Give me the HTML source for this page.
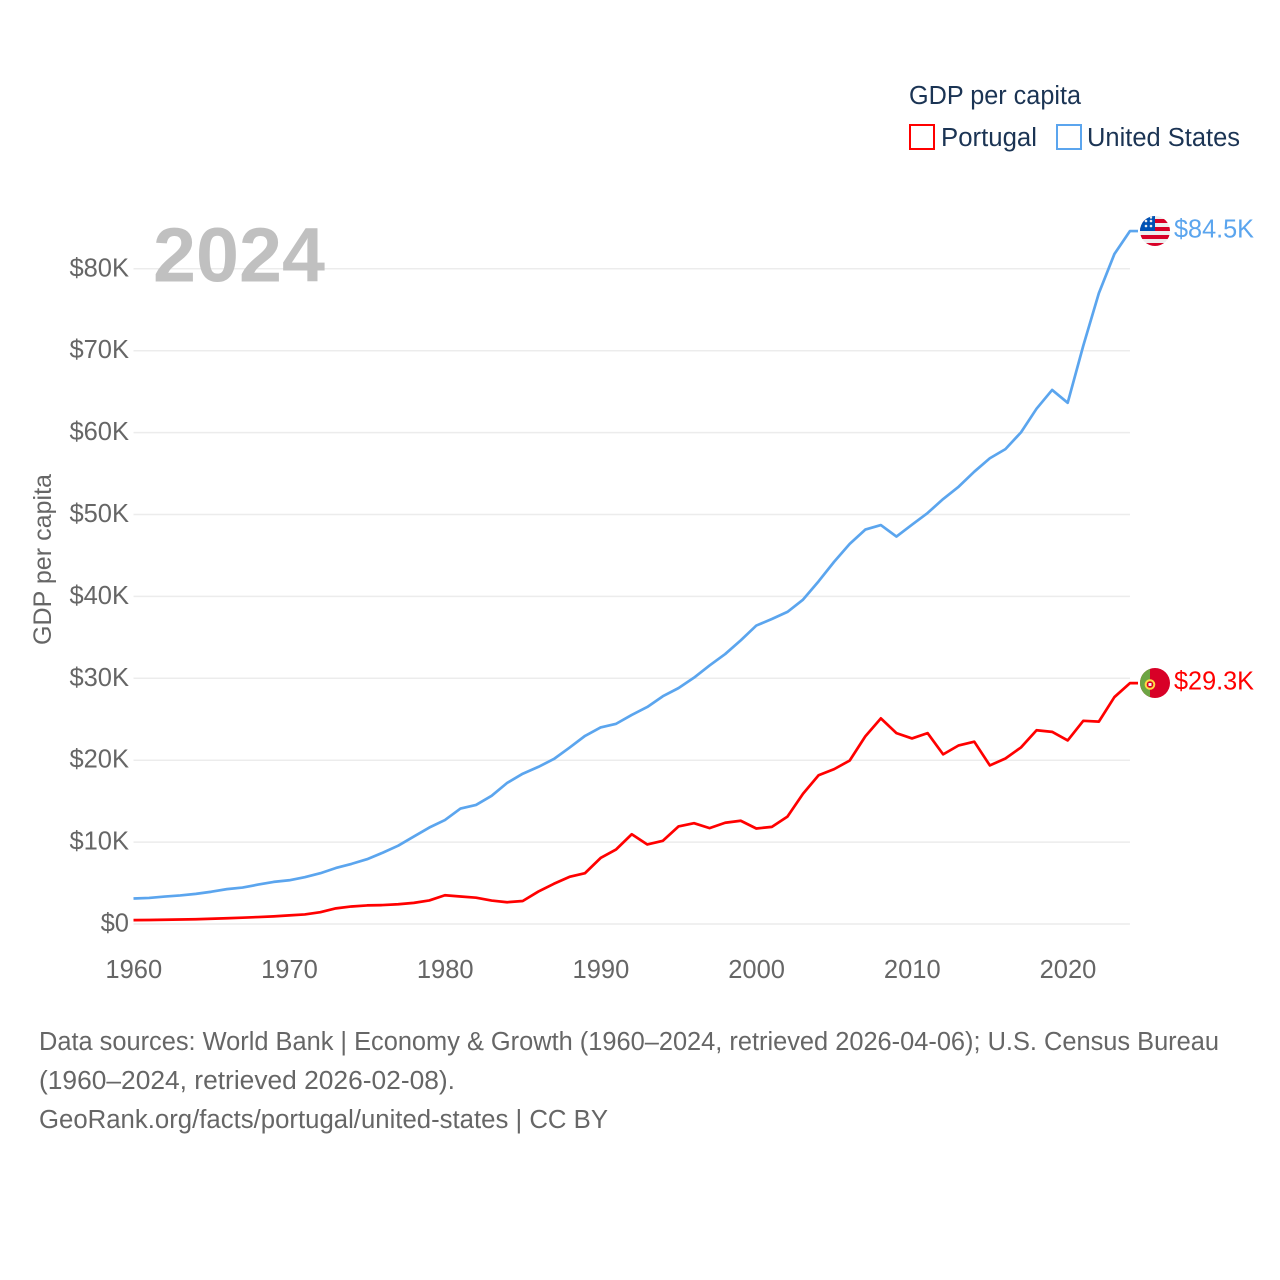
<!DOCTYPE html>
<html lang="en">
<head>
<meta charset="utf-8">
<title>GDP per capita: Portugal vs United States</title>
<style>
html,body{margin:0;padding:0;background:#fff;}
svg{display:block;font-family:"Liberation Sans",sans-serif;}
</style>
</head>
<body>
<svg id="chart" xmlns="http://www.w3.org/2000/svg" width="1280" height="1280" viewBox="0 0 1280 1280">
  <defs>
    <clipPath id="flag-clip-us"><circle cx="1155" cy="231" r="15"/></clipPath>
    <clipPath id="flag-clip-pt"><circle cx="1155" cy="683" r="15"/></clipPath>
  </defs>
  <rect x="0" y="0" width="1280" height="1280" fill="#fff"/>

  <g id="grid"></g>
  <text x="153" y="281.5" font-size="77" font-weight="700" fill="#c0c0c0" textLength="172" lengthAdjust="spacingAndGlyphs">2024</text>
  <g id="yticks"></g>
  <g id="xticks"></g>
  <text transform="translate(51,645) rotate(-90)" font-size="25" fill="#666" textLength="171" lengthAdjust="spacingAndGlyphs">GDP per capita</text>
  <g id="series"></g>

  <g>
    <text x="909" y="104" font-size="25.5" fill="#1b3454" textLength="172" lengthAdjust="spacingAndGlyphs">GDP per capita</text>
    <g>
      <rect x="910" y="125" width="24" height="24" fill="#fff" stroke="#ff0000" stroke-width="2"/>
      <text x="941" y="146" font-size="25.5" fill="#1b3454" textLength="96" lengthAdjust="spacingAndGlyphs">Portugal</text>
    </g>
    <g>
      <rect x="1057" y="125" width="24" height="24" fill="#fff" stroke="#5ba5ee" stroke-width="2"/>
      <text x="1087" y="146" font-size="25.5" fill="#1b3454" textLength="153" lengthAdjust="spacingAndGlyphs">United States</text>
    </g>
  </g>

  <g clip-path="url(#flag-clip-us)">
    <rect x="1140" y="216" width="30" height="30" fill="#eeeeee"/>
    <rect x="1140" y="219" width="30" height="4" fill="#d80027"/>
    <rect x="1140" y="227" width="30" height="4" fill="#d80027"/>
    <rect x="1140" y="235" width="30" height="4" fill="#d80027"/>
    <rect x="1140" y="243" width="30" height="4" fill="#d80027"/>
    <rect x="1140" y="216" width="15" height="15" fill="#0052b4"/>
    <circle cx="1146" cy="226" r="1.3" fill="#eee"/>
    <circle cx="1151" cy="226" r="1.3" fill="#eee"/>
    <circle cx="1146" cy="221" r="1.3" fill="#eee"/>
    <circle cx="1151" cy="221" r="1.3" fill="#eee"/>
    <circle cx="1151" cy="217.5" r="1.2" fill="#eee"/>
  </g>
  <g clip-path="url(#flag-clip-pt)">
    <rect x="1140" y="668" width="30" height="30" fill="#d80027"/>
    <rect x="1140" y="668" width="10" height="30" fill="#6da544"/>
    <circle cx="1150" cy="684.5" r="5.3" fill="#ffda44"/>
    <circle cx="1150" cy="684.5" r="3.3" fill="#d80027"/>
    <rect x="1148.5" y="683" width="3" height="3" fill="#eee"/>
  </g>

  <text x="1174" y="237.5" font-size="25.5" fill="#5ba5ee" textLength="80" lengthAdjust="spacingAndGlyphs">$84.5K</text>
  <text x="1174" y="689.5" font-size="25.5" fill="#ff0000" textLength="80" lengthAdjust="spacingAndGlyphs">$29.3K</text>

  <g font-size="25.5" fill="#666">
    <text x="39" y="1050" textLength="1180" lengthAdjust="spacingAndGlyphs">Data sources: World Bank | Economy &amp; Growth (1960–2024, retrieved 2026-04-06); U.S. Census Bureau</text>
    <text x="39" y="1089" textLength="416" lengthAdjust="spacingAndGlyphs">(1960–2024, retrieved 2026-02-08).</text>
    <text x="39" y="1128" textLength="569" lengthAdjust="spacingAndGlyphs">GeoRank.org/facts/portugal/united-states | CC BY</text>
  </g>
</svg>
<script>
const years = [1960,1961,1962,1963,1964,1965,1966,1967,1968,1969,1970,1971,1972,1973,1974,1975,1976,1977,1978,1979,1980,1981,1982,1983,1984,1985,1986,1987,1988,1989,1990,1991,1992,1993,1994,1995,1996,1997,1998,1999,2000,2001,2002,2003,2004,2005,2006,2007,2008,2009,2010,2011,2012,2013,2014,2015,2016,2017,2018,2019,2020,2021,2022,2023,2024];
const unitedStates = [3.0,3.07,3.24,3.38,3.57,3.83,4.15,4.34,4.7,5.03,5.23,5.61,6.09,6.73,7.23,7.8,8.59,9.45,10.57,11.67,12.58,13.98,14.43,15.54,17.12,18.24,19.07,20.04,21.42,22.86,23.89,24.34,25.42,26.39,27.7,28.69,29.97,31.46,32.85,34.52,36.33,37.13,38.0,39.49,41.73,44.12,46.3,48.05,48.6,47.2,48.65,50.07,51.78,53.29,55.12,56.76,57.87,59.92,62.81,65.1,63.53,70.5,76.9,81.7,84.5];
const portugal = [0.36,0.38,0.41,0.44,0.47,0.53,0.59,0.66,0.74,0.82,0.94,1.06,1.33,1.8,2.03,2.16,2.2,2.3,2.47,2.77,3.4,3.25,3.1,2.75,2.55,2.7,3.85,4.8,5.65,6.1,7.95,9.0,10.85,9.6,10.05,11.8,12.2,11.6,12.25,12.5,11.55,11.75,13.0,15.8,18.05,18.8,19.85,22.8,25.0,23.2,22.55,23.2,20.6,21.7,22.15,19.25,20.1,21.45,23.55,23.35,22.3,24.7,24.6,27.6,29.3];
const yTickValues = [0,10,20,30,40,50,60,70,80];
const yTickLabels = ["$0","$10K","$20K","$30K","$40K","$50K","$60K","$70K","$80K"];
const xTickYears = [1960,1970,1980,1990,2000,2010,2020];

const NS = "http://www.w3.org/2000/svg";
function xScale(year){ return 133.5 + (year - 1960) * 15.57; }
function yScale(value){ return 924 - value * 8.19; }
function lineY(value){ return yScale(value) - 0.9; }
function make(tag, parent){
  const el = document.createElementNS(NS, tag);
  parent.appendChild(el);
  return el;
}

const grid = document.getElementById("grid");
const yticks = document.getElementById("yticks");
const xticks = document.getElementById("xticks");
const seriesGroup = document.getElementById("series");

yTickValues.forEach(function(v, i){
  const line = make("line", grid);
  
  
  line.setAttribute("x1", xScale(1960));
  line.setAttribute("x2", xScale(2024));
  line.setAttribute("y1", yScale(v));
  line.setAttribute("y2", yScale(v));
  line.setAttribute("stroke", "#ececec");
  line.setAttribute("stroke-width", "1.5");
  const label = make("text", yticks);
  
  
  label.setAttribute("x", 129);
  label.setAttribute("y", yScale(v) + 7.5);
  label.setAttribute("text-anchor", "end");
  label.setAttribute("font-size", "25.5");
  label.setAttribute("fill", "#666");
  label.textContent = yTickLabels[i];
});

xTickYears.forEach(function(yr){
  const label = make("text", xticks);
  
  
  label.setAttribute("x", xScale(yr) + 0.3);
  label.setAttribute("y", 978);
  label.setAttribute("text-anchor", "middle");
  label.setAttribute("font-size", "25.5");
  label.setAttribute("fill", "#666");
  label.textContent = String(yr);
});

function pathFor(values){
  const pts = values.map(function(v, i){
    return xScale(years[i]).toFixed(2) + "," + lineY(v).toFixed(2);
  });
  pts.push("1138," + lineY(values[values.length - 1]).toFixed(2));
  return "M" + pts.join("L");
}

const usLine = make("path", seriesGroup);


usLine.setAttribute("d", pathFor(unitedStates));
usLine.setAttribute("fill", "none");
usLine.setAttribute("stroke", "#5ba5ee");
usLine.setAttribute("stroke-width", "2.7");
usLine.setAttribute("stroke-linejoin", "round");

const ptLine = make("path", seriesGroup);


ptLine.setAttribute("d", pathFor(portugal));
ptLine.setAttribute("fill", "none");
ptLine.setAttribute("stroke", "#ff0000");
ptLine.setAttribute("stroke-width", "2.7");
ptLine.setAttribute("stroke-linejoin", "round");
</script>
</body>
</html>
